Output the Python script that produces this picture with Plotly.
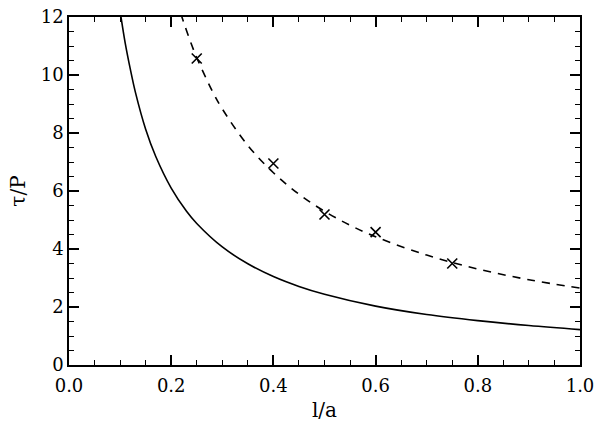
import plotly.graph_objects as go

# values
x_solid = [0.095, 0.10, 0.11, 0.12, 0.13, 0.15, 0.17, 0.20, 0.23, 0.25, 0.30, 0.35, 0.40,
           0.45, 0.50, 0.60, 0.70, 0.80, 0.90, 1.00]
y_solid = [12.8, 12.2, 11.1, 10.2, 9.4, 8.13, 7.18, 6.1, 5.3, 4.88, 4.07, 3.49, 3.05,
           2.71, 2.44, 2.03, 1.74, 1.53, 1.36, 1.22]

x_dash = [0.21, 0.22, 0.24, 0.25, 0.28, 0.30, 0.35, 0.40, 0.45, 0.50, 0.55, 0.60,
          0.70, 0.80, 0.90, 1.00]
y_dash = [12.6, 12.05, 11.04, 10.6, 9.46, 8.83, 7.57, 6.63, 5.89, 5.3, 4.82, 4.42,
          3.79, 3.31, 2.94, 2.65]

x_pts = [0.25, 0.40, 0.50, 0.60, 0.75]
y_pts = [10.57, 6.95, 5.19, 4.58, 3.50]

x_ticks = [0, 0.2, 0.4, 0.6, 0.8, 1.0]
x_labels = ["0.0", "0.2", "0.4", "0.6", "0.8", "1.0"]
y_ticks = [0, 2, 4, 6, 8, 10, 12]

FONT = "DejaVu Serif"
tfont = dict(family=FONT, size=18, color="black")
titlefont = dict(family=FONT, size=20, color="black")

fig = go.Figure()
fig.add_trace(go.Scatter(x=x_solid, y=y_solid, mode="lines", line_shape="spline",
                         line=dict(color="black", width=1.6)))
fig.add_trace(go.Scatter(x=x_dash, y=y_dash, mode="lines", line_shape="spline",
                         line=dict(color="black", width=1.6, dash="8px,7px")))
fig.add_trace(go.Scatter(x=x_pts, y=y_pts, mode="markers",
                         marker=dict(symbol="x-thin", size=10, color="black",
                                     line=dict(color="black", width=1.6))))
# invisible trace so the top/right frame axes get drawn
fig.add_trace(go.Scatter(x=[x_ticks[0]], y=[y_ticks[0]], xaxis="x2", yaxis="y2",
                         mode="markers", marker=dict(opacity=0), hoverinfo="skip"))

axis_common = dict(showline=True, linecolor="black", linewidth=1.5,
                   ticks="inside", ticklen=10, tickwidth=1.5, tickcolor="black",
                   showgrid=False, zeroline=False, ticklabeloverflow="allow",
                   tickfont=tfont)
xminor = dict(dtick=0.05, ticks="inside", ticklen=5, tickwidth=1.2,
              tickcolor="black", showgrid=False)
yminor = dict(dtick=0.5, ticks="inside", ticklen=5, tickwidth=1.2,
              tickcolor="black", showgrid=False)

fig.update_layout(
    width=600, height=428,
    margin=dict(l=69, r=17, t=6, b=63),
    plot_bgcolor="white", paper_bgcolor="white",
    showlegend=False,
    xaxis=dict(range=[0, 1.0], tickvals=x_ticks, ticktext=x_labels, minor=xminor,
               ticklabelstandoff=4,
               title=dict(text="l/a", font=titlefont, standoff=8),
               **axis_common),
    yaxis=dict(range=[0, 12], tickvals=y_ticks, minor=yminor,
               title=dict(text="τ/P", font=titlefont, standoff=10),
               **axis_common),
    xaxis2=dict(range=[0, 1.0], tickvals=x_ticks, minor=xminor, overlaying="x",
                side="top", showticklabels=False, **axis_common),
    yaxis2=dict(range=[0, 12], tickvals=y_ticks, minor=yminor, overlaying="y",
                side="right", showticklabels=False, **axis_common),
)

# drop the browser's default 8px body margin so the figure sits at the page corner
fig.write_html("out.html", config={"displayModeBar": False},
               post_script="document.body.style.margin='0';"
                           "document.body.style.overflow='hidden';")
